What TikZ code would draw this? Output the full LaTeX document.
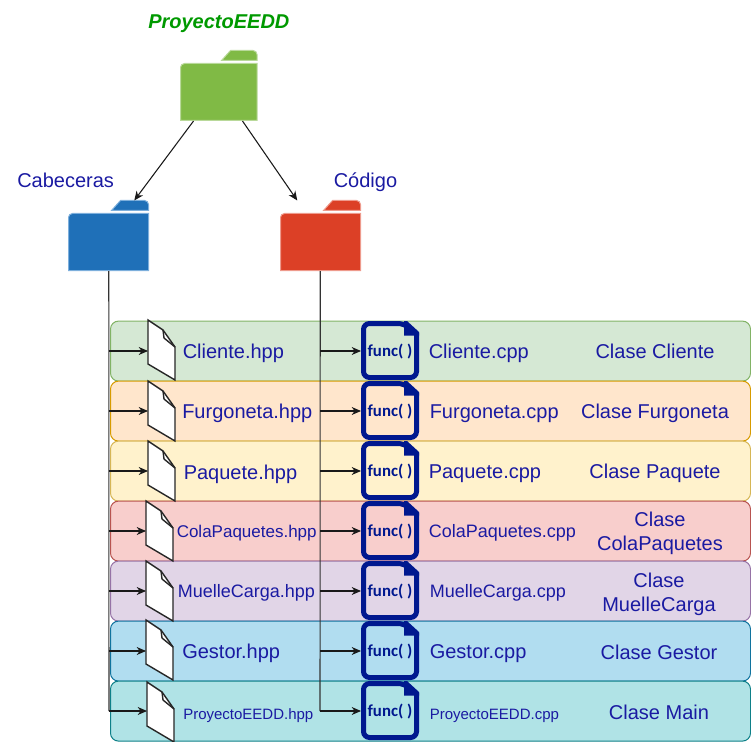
\documentclass[tikz,border=0pt]{standalone}
\usepackage{fontspec}
\setmainfont{Liberation Sans}
\newfontfamily\funcfont{Carlito}
\usetikzlibrary{arrows.meta,calc}
\definecolor{txtblue}{HTML}{1A1AA2}
\definecolor{txtgreen}{HTML}{009900}
\definecolor{funcblue}{HTML}{00188F}
\definecolor{fgreen}{HTML}{80BA45}
\definecolor{fgreenb}{HTML}{B9D99A}
\definecolor{fblue}{HTML}{1F70B8}
\definecolor{fblueb}{HTML}{7DAFDC}
\definecolor{fred}{HTML}{DC4026}
\definecolor{fredb}{HTML}{EE9A8C}
\definecolor{r1}{HTML}{D5E8D4}\definecolor{b1}{HTML}{82B366}
\definecolor{r2}{HTML}{FFE6CC}\definecolor{b2}{HTML}{D79B00}
\definecolor{r3}{HTML}{FFF2CC}\definecolor{b3}{HTML}{D6B656}
\definecolor{r4}{HTML}{F8CECC}\definecolor{b4}{HTML}{B85450}
\definecolor{r5}{HTML}{E1D5E7}\definecolor{b5}{HTML}{9673A6}
\definecolor{r6}{HTML}{B1DDF0}\definecolor{b6}{HTML}{10739E}
\definecolor{r7}{HTML}{B0E3E6}\definecolor{b7}{HTML}{0E8088}
\tikzset{
  x=0.75pt,y=-0.75pt,
  rowbox/.style={rounded corners=6pt,line width=0.75pt,minimum width=480pt,minimum height=45pt,inner sep=0pt,anchor=north west},
  slot/.style={inner sep=0pt,anchor=north west},
  lbl/.style={inner sep=0pt,anchor=base west,text=txtblue},
  clbl/.style={inner sep=0pt,anchor=center,align=center,text=txtblue,font=\fontsize{15}{18}\selectfont},
  conn/.style={line width=0.8pt,black!90,-{Stealth[length=7pt,width=6pt]}},
  trunk/.style={line width=0.8pt,black!80},
  docline/.style={line width=1.05pt,draw=black!85,line join=miter},
}
\newcommand{\fs}[1]{\fontsize{#1}{#1}\selectfont}
\newcommand{\folder}[7]{% name, left, top, width(body), tabstart, fill, border
  \begin{scope}[shift={(#2,#3)}]
    \node[slot,minimum width=#4*0.75pt,minimum height=52.5pt] (#1) at (0,0) {};
    \draw[fill=#6,draw=#7,line width=0.75pt]
      (0,70) -- (0,17) arc[start angle=180,end angle=90,radius=3pt] -- (#4,13) -- (#4,70) -- cycle;
    \draw[fill=#6,draw=#7,line width=0.75pt]
      (#5,10) -- (#5+9,0) -- (#4-4,0) arc[start angle=90,end angle=0,radius=3pt] -- (#4,10) -- cycle;
  \end{scope}
}
\newcommand{\docicon}[3]{% name,x,y
  \begin{scope}[shift={(#2,#3)}]
    \node[slot,minimum width=20.25pt,minimum height=45pt] (#1) at (0,0) {};
    \draw[docline,fill=white] (0,0) -- (15,10) -- (27,27) -- (27,60) -- (0,44) -- cycle;
    \draw[docline] (15,10) -- (16,18) -- (27,27);
  \end{scope}
}
\newcommand{\funcicon}[3]{% name,x,y
  \begin{scope}[shift={(#2,#3)}]
    \node[slot,minimum width=43.5pt,minimum height=44.25pt] (#1) at (0,0) {};
    \draw[line width=3.75pt,draw=funcblue,rounded corners=4.5pt]
      (2.5,25) -- (2.5,2.5) -- (43,2.5) [sharp corners] -- (55.5,13) [rounded corners=4.5pt] -- (55.5,56.5) -- (2.5,56.5) -- cycle;
    \fill[funcblue] (43,0) -- (46,0) -- (58,11) -- (58,14.5) -- (43,14.5) -- cycle;
    \node[inner sep=0pt,text=funcblue,font=\funcfont\bfseries\fontsize{12.6}{13}\selectfont] at (29,30.5) {func( )};
  \end{scope}
}
\begin{document}
\begin{tikzpicture}
\useasboundingbox (0,0) rectangle (751,742);
% rows
\node[rowbox,fill=r1,draw=b1] (row1) at (110,320.6) {};
\node[rowbox,fill=r2,draw=b2] (row2) at (110,380.6) {};
\node[rowbox,fill=r3,draw=b3] (row3) at (110,440.6) {};
\node[rowbox,fill=r4,draw=b4] (row4) at (110,500.6) {};
\node[rowbox,fill=r5,draw=b5] (row5) at (110,560.6) {};
\node[rowbox,fill=r6,draw=b6] (row6) at (110,620.6) {};
\node[rowbox,fill=r7,draw=b7] (row7) at (110,680.6) {};
% folders
\folder{fgr}{180.5}{50.5}{76.5}{41}{fgreen}{fgreenb}
\folder{fbl}{68.5}{200.5}{80}{43}{fblue}{fblueb}
\folder{frd}{280.5}{200.5}{80}{43}{fred}{fredb}
% folder captions
\node[inner sep=0pt,anchor=base west,text=txtgreen,font=\fs{15}\bfseries\itshape] (tgr) at (148,29) {ProyectoEEDD};
\node[lbl,font=\fs{15}] (tbl) at (17,188) {Cabeceras};
\node[lbl,font=\fs{15}] (trd) at (333.5,188) {Código};
% folder arrows
\draw[conn] ($(fgr.south)+(-25.5,0)$) -- ($(fbl.north)+(25.5,0)$);
\draw[conn] ($(fgr.south)+(23.5,0)$) -- ($(frd.north)+(-23.5,0)$);
% icons
\docicon{d1}{148}{320}
\docicon{d2}{148}{381}
\docicon{d3}{148}{441}
\docicon{d4}{146}{501}
\docicon{d5}{146}{561}
\docicon{d6}{146}{620}
\docicon{d7}{147}{682}
\funcicon{f1}{361}{321}
\funcicon{f2}{361}{381}
\funcicon{f3}{361}{441}
\funcicon{f4}{361}{501}
\funcicon{f5}{361}{561}
\funcicon{f6}{361}{621}
\funcicon{f7}{361}{681}
% trunks
\coordinate (bend) at (109,711);
\coordinate (cend) at (320,711);
\draw[trunk] (fbl.south) -- (bend);
\draw[trunk,rounded corners=0pt] ($(frd.south)+(-0.5,0)$) -- (cend);
\foreach \i/\yy in {1/351,2/411,3/471,4/531,5/591,6/651,7/711}{
  \coordinate (h\i) at (109,\yy);
  \coordinate (c\i) at (320,\yy);
  \draw[conn] (h\i) -- (h\i -| d\i.west);
  \draw[conn] (c\i) -- (c\i -| f\i.west);
}
% labels
\node[lbl,font=\fs{15}] (a1) at (182.5,358) {Cliente.hpp};
\node[lbl,font=\fs{15}] (a2) at (182,418) {Furgoneta.hpp};
\node[lbl,font=\fs{15}] (a3) at (183.5,479) {Paquete.hpp};
\node[lbl,font=\fs{12.75}] (a4) at (176.5,537) {ColaPaquetes.hpp};
\node[lbl,font=\fs{13.5}] (a5) at (177.5,597) {MuelleCarga.hpp};
\node[lbl,font=\fs{15}] (a6) at (182,658) {Gestor.hpp};
\node[lbl,font=\fs{11.25}] (a7) at (183,719) {ProyectoEEDD.hpp};
\node[lbl,font=\fs{15}] (b1n) at (428.5,358) {Cliente.cpp};
\node[lbl,font=\fs{15}] (b2n) at (429.5,418) {Furgoneta.cpp};
\node[lbl,font=\fs{15}] (b3n) at (428.5,478) {Paquete.cpp};
\node[lbl,font=\fs{13.5}] (b4n) at (428.5,537) {ColaPaquetes.cpp};
\node[lbl,font=\fs{13.5}] (b5n) at (429.5,597) {MuelleCarga.cpp};
\node[lbl,font=\fs{15}] (b6n) at (429.5,658) {Gestor.cpp};
\node[lbl,font=\fs{11.25}] (b7n) at (429.5,719) {ProyectoEEDD.cpp};
\node[clbl] (c1n) at (655,351) {Clase Cliente};
\node[clbl] (c2n) at (655,413) {Clase Furgoneta};
\node[clbl] (c3n) at (655,473) {Clase Paquete};
\node[clbl] (c4n) at (660,533) {Clase\\ColaPaquetes};
\node[clbl] (c5n) at (659,594) {Clase\\MuelleCarga};
\node[clbl] (c6n) at (659,652) {Clase Gestor};
\node[clbl] (c7n) at (659,712) {Clase Main};
\end{tikzpicture}
\end{document}
